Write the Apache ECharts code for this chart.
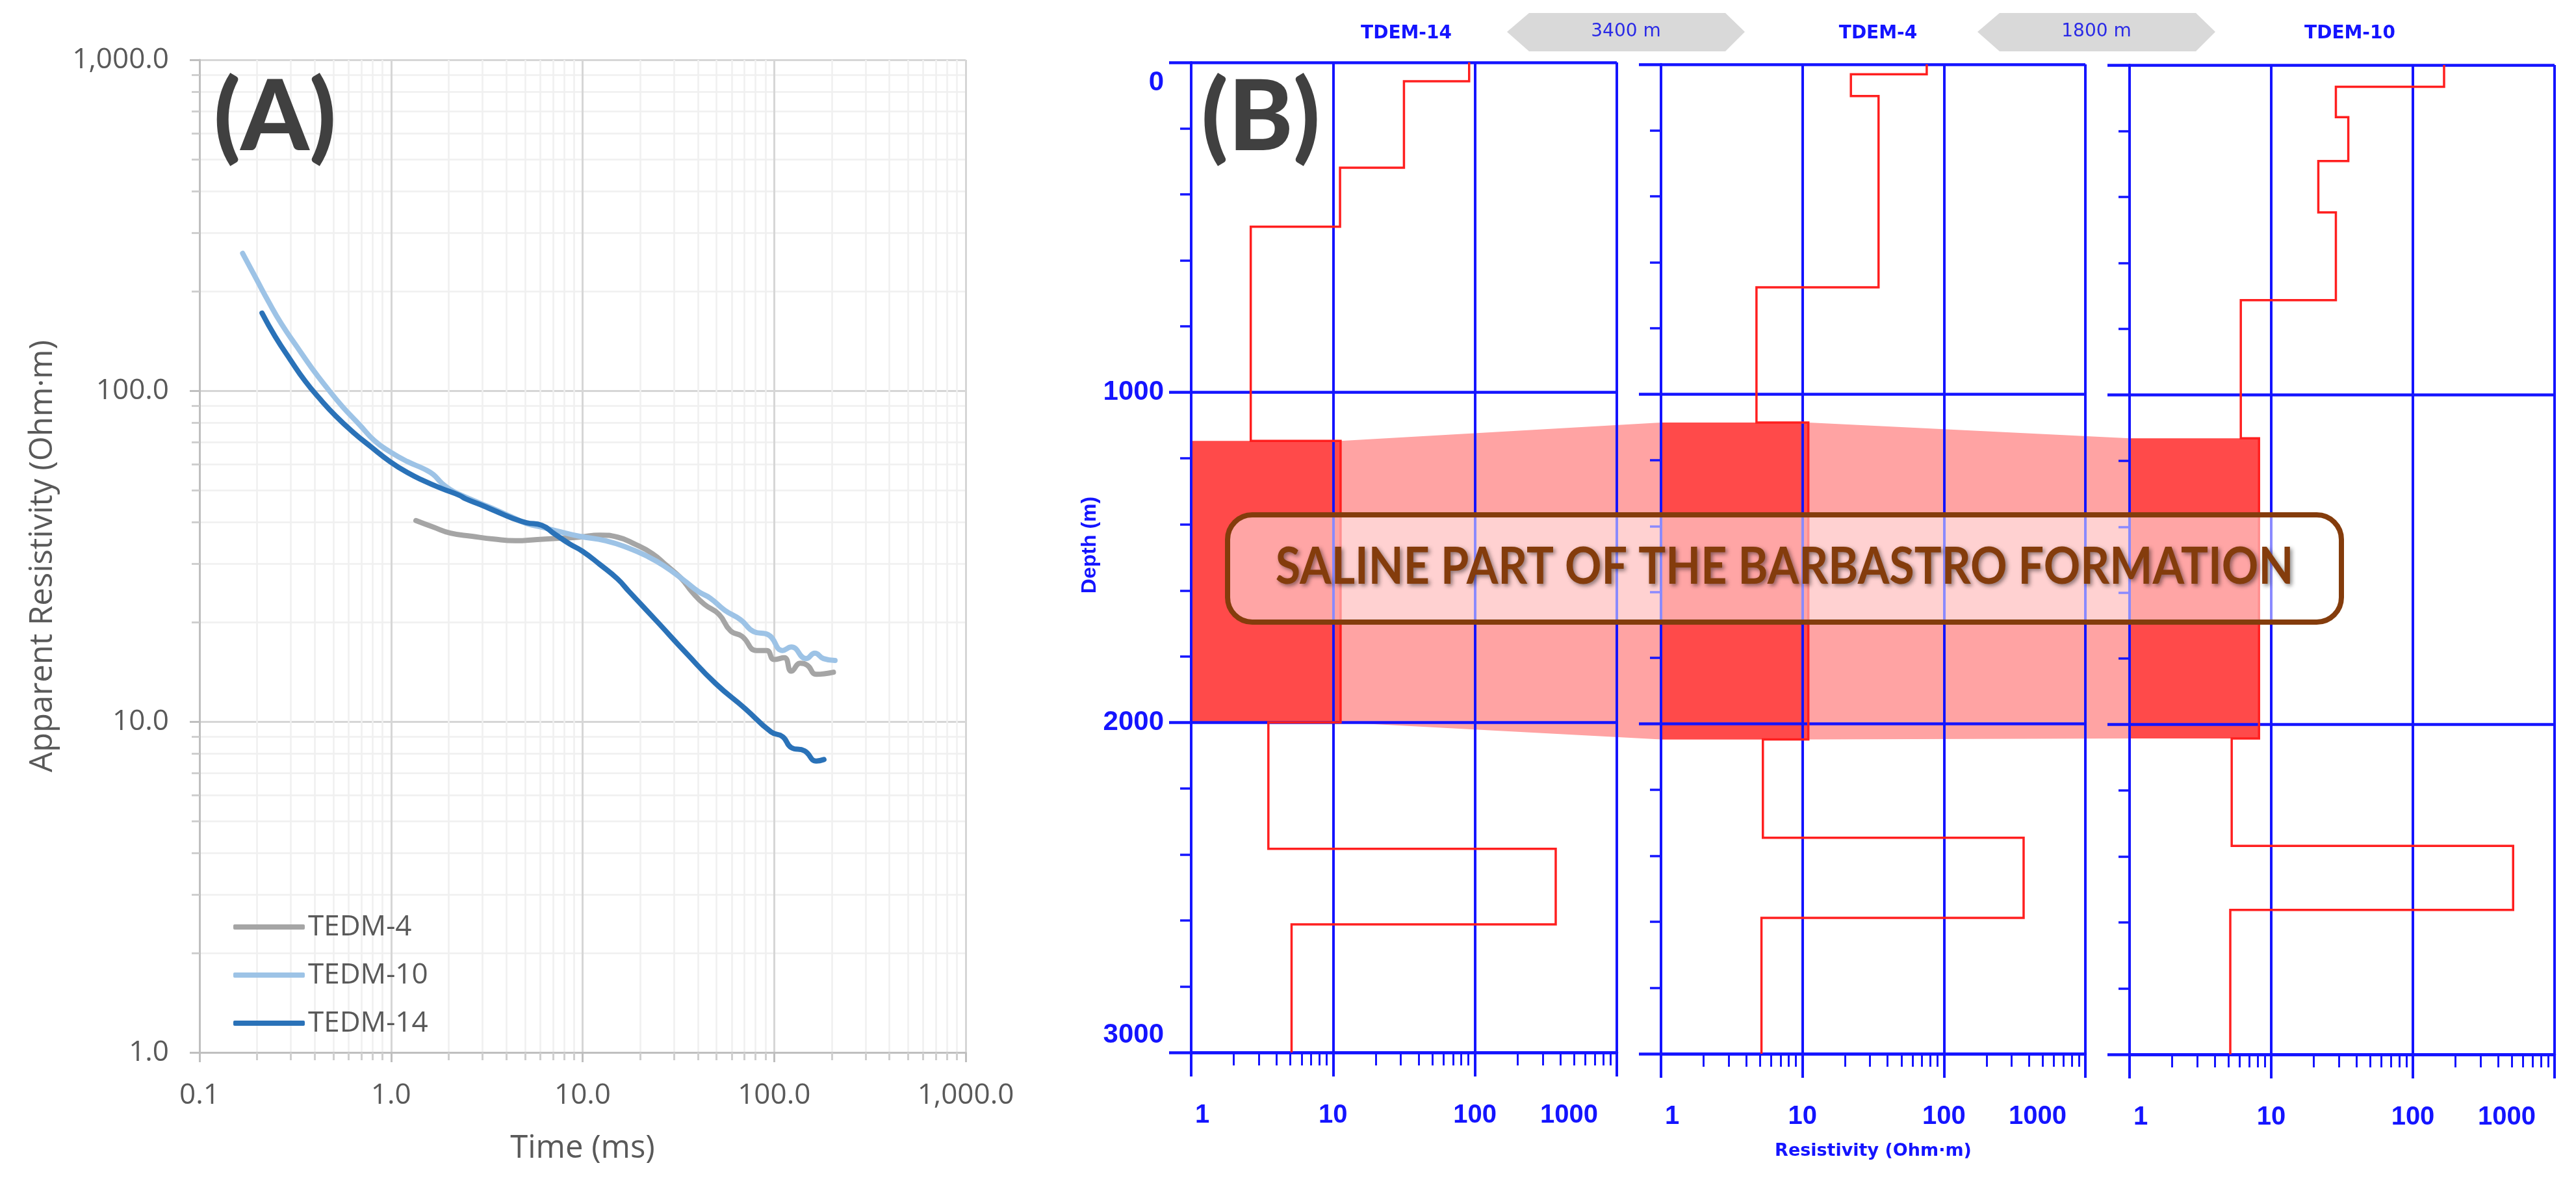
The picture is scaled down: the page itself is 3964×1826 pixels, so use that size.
<!DOCTYPE html>
<html>
<head>
<meta charset="utf-8">
<title>TDEM soundings</title>
<script src="https://cdn.jsdelivr.net/npm/echarts@6/dist/echarts.min.js"></script>
<style>html,body{margin:0;padding:0;background:#fff}#main{width:3964px;height:1826px}</style>
</head>
<body>
<div id="main"></div>
<script>
// (A) apparent resistivity curves: [time ms, resistivity]
let tedm4 = [[1.348,40.5],[1.66,38.7],[2.045,37.1],[2.65,36.3],[3.44,35.6],[4.47,35.2],[5.8,35.5],[7.52,35.8],[9.65,36.1],[12.3,36.6],[15.2,36.1],[18.7,34.4],[23.1,32.2],[27.5,29.6],[32.7,27.1],[37.6,24.5],[43.3,22.6],[51.5,21.1],[59.2,18.8],[68,18.1],[81,16.4],[91.5,16.4],[99.9,15.4],[113,15.6],[123,14.2],[137,15],[149,14.8],[166,13.9],[204,14.1]]
let tedm10 = [[0.168,260],[0.196,220],[0.229,186],[0.268,159],[0.322,136],[0.386,117],[0.463,102],[0.556,89.7],[0.685,78.9],[0.822,70.5],[0.986,65.4],[1.215,61.1],[1.496,57.9],[1.661,55.8],[1.843,52.5],[2.045,50.2],[2.27,48.6],[2.94,45.6],[3.53,43.6],[4.24,41.6],[5.09,39.7],[6.11,38.7],[7.3,37.7],[9.65,36.3],[13.2,35.2],[17.5,33.4],[21.5,31.7],[26.5,29.6],[33.9,26.7],[40.3,24.7],[46.4,23.6],[55.2,21.7],[66.9,20.3],[78.2,18.7],[93.1,18.3],[110.9,16.4],[123,16.8],[147,15.5],[163,16.1],[181,15.5],[208,15.3]]
let tedm14 = [[0.212,171.6],[0.248,146],[0.298,124],[0.357,106.7],[0.429,93.9],[0.515,83.8],[0.634,74.9],[0.78,67.9],[0.986,61.1],[1.215,56.6],[1.496,53.3],[1.843,50.6],[2.27,48.3],[2.455,47.1],[2.94,45.2],[3.53,43.2],[4.24,41.3],[5.09,39.9],[6.11,39.2],[7.14,36.9],[8.57,34.4],[10,32.7],[12.3,29.85],[15.2,27],[17.5,24.7],[24.8,19.9],[35.1,16],[49.7,13],[70.5,10.95],[96.5,9.3],[110.9,9],[123,8.34],[144,8.16],[166,7.6],[182,7.68]]

// (B) layered models: layer boundaries (m) and layer resistivity (Ohm.m)
let depths14 = [0,57,319,498,1147,2000,2383,2612,3000]
let res14 = [91,31.6,11.2,2.63,11.3,3.5,371,5.1]
let depths4 = [0,30,96,676,1086,2047,2345,2588,3000]
let res4 = [75.6,22,34.5,4.73,11,5.25,366,5.13]
let depths10 = [0,66,158,291,447,713,1132,2042,2368,2562,3000]
let res10 = [166,28.6,35,21.5,28.6,6.1,8.2,5.26,510,5.14]
let salineLayer = [4,4,6]   // index of the saline layer in each model

let wellNames = ['TDEM-14','TDEM-4','TDEM-10']
let distances = ['3400 m','1800 m']
let models = [[depths14,res14],[depths4,res4],[depths10,res10]]

const BLUE = '#1414ff'
const NARROW = '"Liberation Sans Narrow","Liberation Sans",sans-serif'
const SANS = '"Open Sans","Noto Sans",sans-serif'

let chart = echarts.init(document.getElementById('main'), null, {renderer:'canvas', width:3964, height:1826})

//- 层状模型转折线点
function stepPoints(depths, res){
  let pts = []
  res.forEach((r,i) => { pts.push([r,depths[i]]); pts.push([r,depths[i+1]]) })
  return pts
}

function fmtA(v){
  return v.toLocaleString('en-US',{minimumFractionDigits:1,maximumFractionDigits:1})
}

let grids = [
  {left:307,top:92,width:1179,height:1527},
  {left:1833,top:96,width:655,height:1523},
  {left:2556,top:99,width:653,height:1522},
  {left:3277,top:100,width:654,height:1522}
]

let axisA = {
  type:'log', logBase:10, z:1,
  axisLine:{onZero:false,lineStyle:{color:'#bfbfbf',width:3}},
  axisTick:{show:true,length:15,lineStyle:{color:'#bfbfbf',width:3}},
  minorTick:{show:true,splitNumber:9,length:12,lineStyle:{color:'#cfcfcf',width:3}},
  splitLine:{show:true,lineStyle:{color:'#d6d6d6',width:3}},
  minorSplitLine:{show:true,lineStyle:{color:'#f0f0f0',width:2.5}},
  nameLocation:'middle',
  nameTextStyle:{fontFamily:SANS,fontSize:49,color:'#595959'}
}
let labelA = {formatter:fmtA,fontFamily:SANS,fontSize:44,color:'#595959'}

let xAxes = [Object.assign({},axisA,{gridIndex:0,min:0.1,max:1000,name:'Time (ms)',nameGap:124,axisLabel:Object.assign({margin:44},labelA)})]
let yAxes = [Object.assign({},axisA,{gridIndex:0,min:1,max:1000,name:'Apparent Resistivity (Ohm·m)',nameGap:216,axisLabel:Object.assign({margin:47},labelA)})]

let bFont = {fontFamily:NARROW,fontWeight:'bold',fontSize:40,color:BLUE}
let bFontY = Object.assign({},bFont,{fontSize:42})

wellNames.forEach((w,i) => {
  xAxes.push({
    type:'log', logBase:10, gridIndex:i+1, min:1, max:1000, position:'bottom', z:5,
    axisLine:{onZero:false,lineStyle:{color:BLUE,width:4.5}},
    axisTick:{show:true,length:37,lineStyle:{color:BLUE,width:4}},
    minorTick:{show:true,splitNumber:9,length:20,lineStyle:{color:BLUE,width:3}},
    splitLine:{show:true,lineStyle:{color:BLUE,width:4}},
    axisLabel:Object.assign({margin:77,alignMinLabel:'left',alignMaxLabel:'right',
      formatter:v => { v=Math.round(v); return v===1 ? '{a|1}' : v===1000 ? '{z|1000}' : ''+v },
      rich:{a:Object.assign({padding:[0,0,0,6]},bFont),z:Object.assign({padding:[0,29,0,0]},bFont)}},bFont),
    name: i===1 ? 'Resistivity (Ohm·m)' : '',
    nameLocation:'middle', nameGap:136,
    nameTextStyle:{fontFamily:'"DejaVu Sans"',fontWeight:'bold',fontSize:27,color:BLUE}
  })
  yAxes.push({
    type:'value', gridIndex:i+1, min:0, max:3000, interval:1000, inverse:true, z:5,
    axisLine:{onZero:false,lineStyle:{color:BLUE,width:4}},
    axisTick:{show:true,length:34,lineStyle:{color:BLUE,width:4.5}},
    minorTick:{show:true,splitNumber:5,length:17,lineStyle:{color:BLUE,width:3.5}},
    splitLine:{show:true,lineStyle:{color:BLUE,width:4.5}},
    axisLabel:{show:i===0,margin:42,verticalAlignMinLabel:'top',verticalAlignMaxLabel:'bottom',
      formatter:v => v===0 ? '{t|0}' : v===3000 ? '{b|3000}' : ''+v,
      rich:{t:Object.assign({padding:[10,0,0,0]},bFontY),b:Object.assign({padding:[0,0,6,0]},bFontY)},
      fontFamily:NARROW,fontWeight:'bold',fontSize:42,color:BLUE},
    name: i===0 ? 'Depth (m)' : '',
    nameLocation:'middle', nameGap:100,
    nameTextStyle:{fontFamily:'"Liberation Sans"',fontWeight:'bold',fontSize:32,color:BLUE,padding:[0,0,0,38]}
  })
})

function curve(name,data,color){
  return {name:name,type:'line',xAxisIndex:0,yAxisIndex:0,data:data,smooth:0.5,symbol:'none',z:3,
    lineStyle:{color:color,width:8,cap:'round',join:'round'},itemStyle:{color:color}}
}

let series = [
  curve('TEDM-4',tedm4,'#a5a5a5'),
  curve('TEDM-10',tedm10,'#9dc3e6'),
  curve('TEDM-14',tedm14,'#2a72b8')
]

models.forEach((m,i) => {
  let k = salineLayer[i]
  // 咸水层红色块
  series.push({
    type:'custom',xAxisIndex:i+1,yAxisIndex:i+1,z:1,silent:true,
    data:[[m[1][k],m[0][k],m[0][k+1]]],
    encode:{x:0,y:[1,2]},
    renderItem:(params,api) => {
      let a = api.coord([1,api.value(1)]), b = api.coord([api.value(0),api.value(2)])
      return {type:'rect',shape:{x:a[0],y:a[1],width:b[0]-a[0],height:b[1]-a[1]},style:{fill:'#ff4a4a'}}
    }
  })
  series.push({
    type:'line',xAxisIndex:i+1,yAxisIndex:i+1,data:stepPoints(m[0],m[1]),symbol:'none',z:6,silent:true,
    lineStyle:{color:'#ff1f1f',width:3.5,join:'miter'}
  })
})

chart.setOption({
  animation:false,
  backgroundColor:'#ffffff',
  grid:grids,
  xAxis:xAxes,
  yAxis:yAxes,
  legend:{
    data:['TEDM-4','TEDM-10','TEDM-14'],orient:'vertical',left:354,top:1399,
    icon:'roundRect',itemWidth:110,itemHeight:8,itemGap:30,
    textStyle:{fontFamily:SANS,fontSize:44,color:'#595959'}
  },
  title:wellNames.map((w,i) => ({
    text:w,left:[2159,2885,3611][i],top:33,textAlign:'center',
    textStyle:{fontFamily:'"DejaVu Sans"',fontWeight:'bold',fontSize:28,color:BLUE}
  })),
  series:series
})

//- 咸水层之间的粉色连接带，以及箭头、标注
function salinePts(i){
  let k = salineLayer[i], m = models[i]
  let conv = p => chart.convertToPixel({gridIndex:i+1},p)
  return {tl:conv([1,m[0][k]]),tr:conv([m[1][k],m[0][k]]),bl:conv([1,m[0][k+1]]),br:conv([m[1][k],m[0][k+1]])}
}
let s0 = salinePts(0), s1 = salinePts(1), s2 = salinePts(2)

function arrow(x0,x1,label){
  let cx = (x0+x1)/2
  return [
    {type:'polygon',z:1,shape:{points:[[x0,49],[x0+34,20],[x1-30,20],[x1,49],[x1-30,79],[x0+34,79]]},style:{fill:'#d9d9d9'}},
    {type:'text',z:2,x:cx,y:49,style:{text:label,fill:'#2a2ae6',font:'28px "DejaVu Sans"',align:'center',verticalAlign:'middle'}}
  ]
}

chart.setOption({graphic:{elements:[
  {type:'polygon',z:-1,silent:true,shape:{points:[s0.tr,s1.tl,s1.tr,s2.tl,s2.bl,s1.br,s1.bl,s0.br]},style:{fill:'#ffa3a3'}},
  ...arrow(2319,2685,distances[0]),
  ...arrow(3043,3409,distances[1]),
  {type:'text',z:20,x:423,y:183,style:{text:'(A)',fill:'#404040',font:'900 150px Lato',align:'center',verticalAlign:'middle'}},
  {type:'text',z:20,x:1940,y:183,style:{text:'(B)',fill:'#404040',font:'900 150px Lato',align:'center',verticalAlign:'middle'}},
  {type:'rect',z:30,shape:{x:1889,y:792,width:1714,height:165,r:38},style:{fill:'rgba(255,255,255,0.5)',stroke:'#843c0c',lineWidth:8}},
  {type:'text',z:31,x:2746,y:873,scaleY:1.12,style:{text:'SALINE PART OF THE BARBASTRO FORMATION',fill:'#843c0c',font:'bold 70px Lato',align:'center',verticalAlign:'middle',
    textShadowColor:'rgba(0,0,0,0.45)',textShadowBlur:6,textShadowOffsetX:3,textShadowOffsetY:3}}
]}})
</script>
</body>
</html>
